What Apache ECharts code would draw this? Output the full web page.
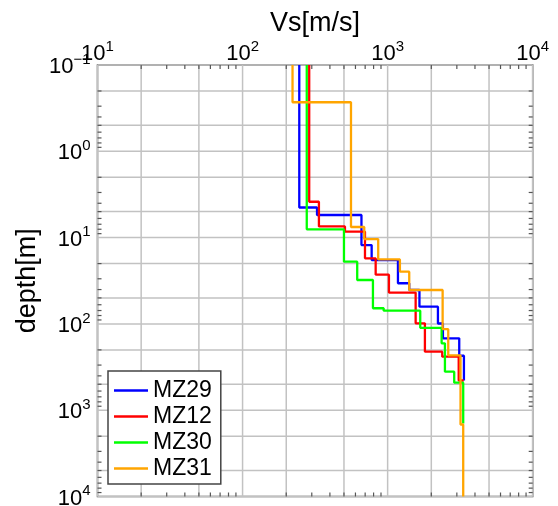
<!DOCTYPE html>
<html>
<head>
<meta charset="utf-8">
<script src="https://cdn.jsdelivr.net/npm/echarts@6/dist/echarts.min.js"></script>
<style>
  html, body { margin: 0; padding: 0; background: #fff; }
  #main { width: 558px; height: 506px; }
</style>
</head>
<body>
<div id="main"></div>
<script>
// site names and colours
const siteNames = ['MZ29', 'MZ12', 'MZ30', 'MZ31'];
const siteColors = ['#0000ff', '#ff0000', '#00ff00', '#ffa500'];

// shear-wave velocity of each layer [m/s] and depth of the layer bottom [m]
const topDepth = 0.1;
const vsMZ29 = [246, 326, 660, 776, 1178, 1409, 1657, 2222, 2405, 3116, 3357];
const depthMZ29 = [4.48, 5.47, 12.2, 18.2, 33.8, 40.5, 63.2, 99, 147, 234, 453];
const vsMZ12 = [288, 336, 508, 698, 827, 1021, 1560, 1807, 2379, 3090, 3346];
const depthMZ12 = [3.84, 7.43, 8.54, 17.4, 26.9, 43.3, 98.4, 210, 240, 453, 453];
const vsMZ30 = [277, 500, 617, 792, 939, 1678, 2356, 2483, 2877, 3319];
const depthMZ30 = [8.01, 19.0, 31.0, 65.9, 70.3, 111, 168, 358, 480, 1426];
const vsMZ31 = [221, 559, 690, 861, 1215, 1409, 2394, 2617, 3180, 3319];
const depthMZ31 = [0.27, 7.54, 10.4, 17.9, 24.8, 40.5, 115, 231, 1464, 10000];

// axis ranges and tick/grid positions
const xMin = 10, xMax = 10000;
const yMin = 0.1, yMax = 10000;
const xDecades = [10, 100, 1000];
const yDecades = [0.1, 1, 10, 100, 1000];
const gridMantissas = [1, 2, 5];
const tickMantissas = [2, 3, 4, 5, 6, 7, 8, 9];

const fontFamily = '"Liberation Sans", Arial, Helvetica, sans-serif';

function expand(decades, mantissas) {
  const out = [];
  decades.forEach(d => mantissas.forEach(m => out.push(m * d)));
  return out;
}
const xGridVals = expand(xDecades, gridMantissas).concat([xMax]);
const yGridVals = expand(yDecades, gridMantissas).concat([yMax]);
const xTickVals = expand(xDecades, tickMantissas);
const yTickVals = expand(yDecades, tickMantissas);

function stepPoints(vs, depths) {
  const pts = [[vs[0], topDepth]];
  for (let i = 0; i < vs.length; i++) {
    pts.push([vs[i], depths[i]]);
    if (i + 1 < vs.length) pts.push([vs[i + 1], depths[i]]);
  }
  return pts;
}

const profiles = [
  [vsMZ29, depthMZ29],
  [vsMZ12, depthMZ12],
  [vsMZ30, depthMZ30],
  [vsMZ31, depthMZ31]
];

function powLabel(v) {
  const e = Math.round(Math.log10(v));
  const s = e < 0 ? '\u2212' + (-e) : String(e);
  return '{b|10}{s|' + s + '}';
}
const powRich = {
  b: { fontSize: 22, lineHeight: 26, fontFamily, color: '#000', verticalAlign: 'bottom' },
  s: { fontSize: 15, lineHeight: 14, fontFamily, color: '#000', verticalAlign: 'top' }
};

// grid lines and inward minor ticks, placed through the axes
function renderFrame(params, api) {
  const children = [];
  const seg = (p1, p2, style) => children.push({
    type: 'line',
    shape: { x1: p1[0], y1: p1[1], x2: p2[0], y2: p2[1] },
    style: style
  });
  const gridStyle = { stroke: '#c2c2c2', lineWidth: 1.5 };
  const tickStyle = { stroke: '#555', lineWidth: 1.2 };
  const tickLen = 4;
  xGridVals.forEach(v => seg(api.coord([v, yMin]), api.coord([v, yMax]), gridStyle));
  yGridVals.forEach(v => seg(api.coord([xMin, v]), api.coord([xMax, v]), gridStyle));
  xTickVals.forEach(v => {
    const a = api.coord([v, yMin]), b = api.coord([v, yMax]);
    seg(a, [a[0], a[1] + tickLen], tickStyle);
    seg(b, [b[0], b[1] - tickLen], tickStyle);
  });
  yTickVals.forEach(v => {
    const a = api.coord([xMin, v]), b = api.coord([xMax, v]);
    seg(a, [a[0] + tickLen, a[1]], tickStyle);
    seg(b, [b[0] - tickLen, b[1]], tickStyle);
  });
  return { type: 'group', children: children };
}

const series = [{
  type: 'custom',
  silent: true,
  z: 1,
  clip: false,
  data: [[100, 1]],
  renderItem: renderFrame
}];
profiles.forEach((p, i) => {
  series.push({
    name: siteNames[i],
    type: 'line',
    z: 3,
    symbol: 'none',
    animation: false,
    clip: true,
    lineStyle: { color: siteColors[i], width: 2.3 },
    itemStyle: { color: siteColors[i] },
    data: stepPoints(p[0], p[1])
  });
});

const chart = echarts.init(document.getElementById('main'), null, { renderer: 'canvas' });
chart.setOption({
  animation: false,
  backgroundColor: '#fff',
  textStyle: { fontFamily },
  grid: {
    left: 97.5, right: 25.3, top: 65, bottom: 9.5,
    containLabel: false,
    outerBoundsMode: 'none',
    show: true,
    backgroundColor: 'transparent',
    borderColor: '#555',
    borderWidth: 1.5
  },
  // x axis title, centred over the plot
  graphic: [{
    type: 'text',
    x: 315,
    y: 23.5,
    silent: true,
    style: {
      text: 'Vs[m/s]',
      fontSize: 27,
      fontFamily,
      fill: '#000',
      align: 'center',
      verticalAlign: 'middle'
    }
  }],
  legend: {
    data: siteNames,
    orient: 'vertical',
    left: 108,
    top: 371,
    icon: 'rect',
    itemWidth: 34,
    itemHeight: 2.5,
    itemGap: 3,
    padding: [8, 9, 4, 6],
    backgroundColor: '#fff',
    borderColor: '#444',
    borderWidth: 1.5,
    borderRadius: 0,
    selectedMode: false,
    textStyle: { fontSize: 23, lineHeight: 22, color: '#000', fontFamily }
  },
  xAxis: {
    type: 'log',
    logBase: 10,
    min: xMin,
    max: xMax,
    position: 'top',
    axisLine: { show: false },
    axisTick: { show: false },
    splitLine: { show: false },
    axisLabel: {
      margin: 0,
      showMinLabel: true,
      showMaxLabel: true,
      formatter: powLabel,
      rich: powRich
    }
  },
  yAxis: {
    type: 'log',
    logBase: 10,
    min: yMin,
    max: yMax,
    inverse: true,
    name: 'depth[m]',
    nameLocation: 'middle',
    nameRotate: 90,
    nameGap: 56.5,
    nameMoveOverlap: false,
    nameTextStyle: { fontSize: 27, color: '#000', fontFamily },
    axisLine: { show: false },
    axisTick: { show: false },
    splitLine: { show: false },
    axisLabel: {
      margin: 7,
      showMinLabel: true,
      showMaxLabel: true,
      formatter: powLabel,
      rich: powRich
    }
  },
  series: series
});
</script>
</body>
</html>
